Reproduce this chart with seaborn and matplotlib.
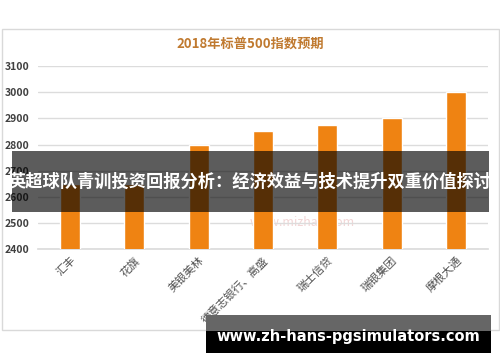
import matplotlib
matplotlib.use("Agg")
import matplotlib.pyplot as plt
import seaborn as sns
import pandas as pd
from matplotlib.patches import Rectangle

banks = ['汇丰', '花旗', '美银美林', '德意志银行、高盛', '瑞士信贷', '瑞银集团', '摩根大通']
targets = [2650, 2650, 2800, 2850, 2875, 2900, 3000]
yticks = [2400, 2500, 2600, 2700, 2800, 2900, 3000, 3100]
title = '2018年标普500指数预期'
banner = '英超球队青训投资回报分析：经济效益与技术提升双重价值探讨'
site = 'www.zh-hans-pgsimulators.com'
watermark = 'www.mizhan.com'

sns.set_theme(style='white')
plt.rcParams['font.family'] = ['Noto Sans CJK SC', 'DejaVu Sans']

W, H = 500, 362
fig = plt.figure(figsize=(5, 3.62), dpi=100)
fig.patch.set_facecolor('white')

def fx(px):
    return px / W

def fy(py):
    return 1 - py / H

# chart frame
fig.patches.append(Rectangle((fx(1.5), fy(330)), fx(497), (330 - 29) / H,
                             transform=fig.transFigure, facecolor='white',
                             edgecolor='#d9d9d9', linewidth=1.0, zorder=-5))

ax = fig.add_axes([fx(38), fy(249.3), fx(450), (249.3 - 66) / H])
ax.set_zorder(1)
ax.set_facecolor('none')
df = pd.DataFrame({'bank': banks, 'target': targets})
sns.barplot(data=df, x='bank', y='target', color='#ef8312', width=0.31,
            saturation=1, ax=ax, zorder=3)
ax.set_ylim(2400, 3100)
ax.set_xlim(-0.5, len(banks) - 0.5)
ax.set_yticks(yticks)
ax.set_yticklabels([str(v) for v in yticks], fontsize=7.5, fontweight='bold',
                   color='#404040')
ax.yaxis.grid(True, color='#dcdcdc', linewidth=1.0, zorder=0)
ax.set_axisbelow(True)
for s in ['top', 'right', 'left']:
    ax.spines[s].set_visible(False)
ax.spines['bottom'].set_color('#dcdcdc')
ax.tick_params(axis='both', length=0, pad=6)
ax.set_xticks(range(len(banks)))
ax.set_xticklabels(banks, rotation=45, ha='right', va='top',
                   rotation_mode='anchor', fontsize=8, color='#505050')
ax.tick_params(axis='x', pad=4)
ax.set_xlabel('')
ax.set_ylabel('')

fig.text(fx(250.5), fy(44), title, ha='center', va='center', fontsize=9.5,
         fontweight='bold', color='#c07a30', zorder=2)

# faint watermark
fig.text(fx(302), fy(222), watermark, ha='center', va='center', fontsize=9,
         color='#f2d6d6', zorder=0.5)

# overlay banner
fig.patches.append(Rectangle((fx(12), fy(212)), fx(477), (212 - 151) / H,
                             transform=fig.transFigure, facecolor='black',
                             alpha=0.64, edgecolor='none', zorder=5))
fig.text(fx(250.5), fy(181.5), banner, ha='center', va='center', fontsize=12.4,
         fontweight='bold', color='white', zorder=6)

# bottom site banner
fig.patches.append(Rectangle((fx(206), fy(331)), fx(285), (331 - 315) / H,
                             transform=fig.transFigure, facecolor='#666666',
                             edgecolor='none', zorder=5))
fig.patches.append(Rectangle((fx(206), fy(353)), fx(285), (353 - 331) / H,
                             transform=fig.transFigure, facecolor='black',
                             edgecolor='none', zorder=5))
fig.text(fx(348), fy(337), site, ha='center', va='center', fontsize=10.5,
         fontweight='bold', color='white', zorder=6,
         family=['DejaVu Sans'])

fig.savefig('out.png', dpi=100, facecolor='white')
